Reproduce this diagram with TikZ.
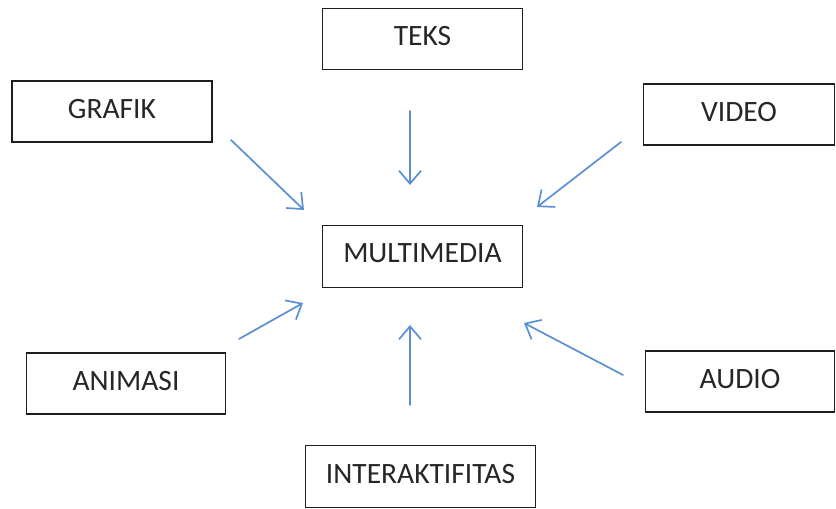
\documentclass[tikz,border=0pt]{standalone}
\usepackage{fontspec}
\setmainfont{Carlito}
\usetikzlibrary{arrows.meta,positioning}
\usepackage{xcolor}
\definecolor{boxline}{HTML}{1E1E1E}
\definecolor{arrowblue}{HTML}{5B8FD4}

\begin{document}
\begin{tikzpicture}[x=1pt, y=-1pt,
  item/.style={draw=boxline, line width=1.9pt, fill=white, minimum height=61pt,
    inner sep=0pt, text depth=6pt, font=\fontsize{29.5}{31}\selectfont, text=black!85},
  feed/.style={arrowblue, line width=1.7pt, line cap=round,
    -{Straight Barb[length=13pt, width=22pt, line width=1.7pt]}}]
  \useasboundingbox (0,0) rectangle (836,509);

  % Boxes
  \node[item, minimum width=200pt] (teks) at (422.5, 39) {TEKS};
  \node[item, minimum width=200pt] (grafik) at (112, 111.5) {GRAFIK};
  \node[item, minimum width=191pt] (video) at (739, 114.5) {VIDEO};
  \node[item, minimum width=200pt, minimum height=62pt] (multimedia) at (422.5, 256.5) {MULTIMEDIA};
  \node[item, minimum width=199pt] (animasi) at (126, 383.5) {ANIMASI};
  \node[item, minimum width=189pt] (audio) at (740, 381.5) {AUDIO};
  \node[item, minimum width=230pt, minimum height=62pt] (interaktifitas) at (420.5, 476.5) {INTERAKTIFITAS};

  % Arrow ends
  \coordinate (grafik-out) at (231, 140);
  \coordinate (grafik-in) at (304, 210);
  \coordinate (teks-out) at (410, 111);
  \coordinate (teks-in) at (410, 185);
  \coordinate (video-out) at (621, 142);
  \coordinate (video-in) at (537, 207);
  \coordinate (animasi-out) at (239, 339);
  \coordinate (animasi-in) at (303, 303);
  \coordinate (inter-out) at (410, 405);
  \coordinate (inter-in) at (410, 325);
  \coordinate (audio-out) at (623, 375);
  \coordinate (audio-in) at (524, 323);

  % Arrows towards the centre
  \draw[feed] (grafik-out) -- (grafik-in);
  \draw[feed] (teks-out) -- (teks-in);
  \draw[feed] (video-out) -- (video-in);
  \draw[feed] (animasi-out) -- (animasi-in);
  \draw[feed] (inter-out) -- (inter-in);
  \draw[feed] (audio-out) -- (audio-in);
\end{tikzpicture}
\end{document}
